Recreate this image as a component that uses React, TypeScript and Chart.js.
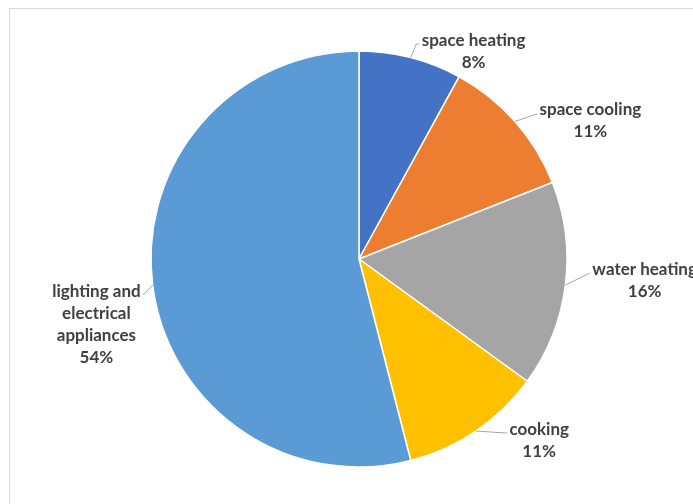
import { useEffect, useRef } from "react";
import { Chart, registerables } from "chart.js";

Chart.register(...registerables);

// ---- data ----
const categories = [
  "space heating",
  "space cooling",
  "water heating",
  "cooking",
  "lighting and electrical appliances",
];
const shares = [8, 11, 16, 11, 54];
const labelLines = [
  ["space heating"],
  ["space cooling"],
  ["water heating"],
  ["cooking"],
  ["lighting and", "electrical", "appliances"],
];

// ---- styles ----
const sliceColors = ["#4472C4", "#ED7D31", "#A5A5A5", "#FFC000", "#5B9BD5"];
const TEXT_COLOR = "#404040";
const LEADER_COLOR = "#A6A6A6";
const FONT = "bold 17px Lato";
const LINE_H = 22;
// leader line geometry relative to the slice's outer mid point: [dx, dy, horizontal tail]
const leaderOffsets: number[][] = [
  [5.5, -13.5, 3],
  [22, -7.5, 0],
  [24.5, -12, 0],
  [31, 2, 0],
  [-9.5, 10, 0],
];

const labelPlugin = {
  id: "excelLabels",
  beforeDraw(chart: any) {
    const ctx = chart.ctx;
    ctx.save();
    ctx.strokeStyle = "#D9D9D9";
    ctx.lineWidth = 1;
    ctx.strokeRect(9.5, 8.5, chart.width + 20, chart.height + 20);
    ctx.restore();
  },
  afterDatasetsDraw(chart: any) {
    const ctx = chart.ctx;
    const meta = chart.getDatasetMeta(0);
    const data = chart.data.datasets[0].data as number[];
    const total = data.reduce((a, b) => a + b, 0);
    ctx.save();
    ctx.font = FONT;
    meta.data.forEach((arc: any, i: number) => {
      const { x, y, startAngle, endAngle, outerRadius } = arc.getProps(
        ["x", "y", "startAngle", "endAngle", "outerRadius"],
        true
      );
      const mid = (startAngle + endAngle) / 2;
      const ex = x + Math.cos(mid) * outerRadius;
      const ey = y + Math.sin(mid) * outerRadius;
      const [dx, dy, tail] = leaderOffsets[i];
      const right = dx >= 0;
      const bx = ex + dx;
      const by = ey + dy;
      const endX = bx + (right ? tail : -tail);
      ctx.strokeStyle = LEADER_COLOR;
      ctx.lineWidth = 1;
      ctx.beginPath();
      ctx.moveTo(ex, ey);
      ctx.lineTo(bx, by);
      if (tail) ctx.lineTo(endX, by);
      ctx.stroke();

      const lines = [...labelLines[i], Math.round((data[i] / total) * 100) + "%"];
      const w = Math.max(...lines.map((l) => ctx.measureText(l).width));
      const gap = 2.5;
      const cx = right ? endX + gap + w / 2 : endX - gap - w / 2;
      ctx.fillStyle = TEXT_COLOR;
      ctx.textAlign = "center";
      ctx.textBaseline = "middle";
      lines.forEach((l, k) => {
        ctx.fillText(l, cx, by - 4 + k * LINE_H);
      });
    });
    ctx.restore();
  },
};

export default function App() {
  const ref = useRef<HTMLCanvasElement | null>(null);
  useEffect(() => {
    if (!ref.current) return;
    const chart = new Chart(ref.current, {
      type: "pie",
      data: {
        labels: categories,
        datasets: [
          {
            data: shares,
            backgroundColor: sliceColors,
            borderColor: "#FFFFFF",
            borderWidth: 1.5,
          },
        ],
      },
      options: {
        responsive: false,
        animation: false,
        radius: 208,
        layout: { padding: { left: 151, right: 126, top: 51, bottom: 37 } },
        plugins: {
          legend: { display: false },
          tooltip: { enabled: false },
        },
      } as any,
      plugins: [labelPlugin],
    });
    if ((document as any).fonts) {
      (document as any).fonts.load(FONT).then(() => chart.draw());
    }
    return () => chart.destroy();
  }, []);
  return (
    <div
      style={{
        position: "fixed",
        left: 0,
        top: 0,
        width: 693,
        height: 504,
        background: "#FFFFFF",
      }}
    >
      <canvas ref={ref} width={693} height={504} style={{ display: "block" }} />
    </div>
  );
}
